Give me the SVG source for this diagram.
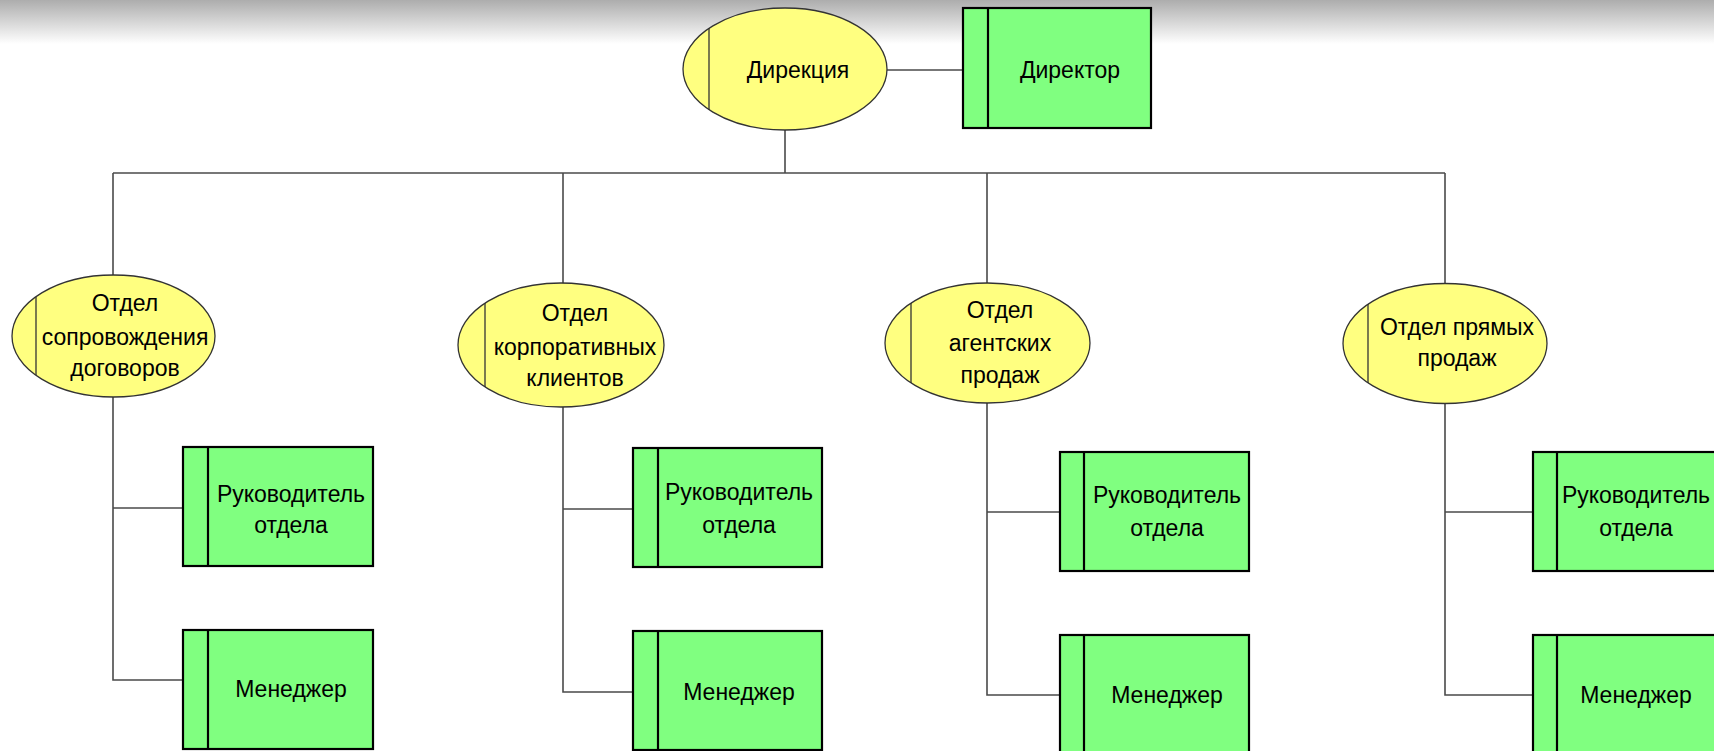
<svg xmlns="http://www.w3.org/2000/svg" width="1714" height="751" viewBox="0 0 1714 751">
<defs>
<linearGradient id="topshade" x1="0" y1="0" x2="0" y2="1">
<stop offset="0" stop-color="#adadad"/>
<stop offset="1" stop-color="#ffffff"/>
</linearGradient>
<style>
.ell{fill:#ffff80;stroke:#333333;stroke-width:1.3}
.eline{stroke:#333333;stroke-width:1.3}
.box{fill:#80ff80;stroke:#000000;stroke-width:2.2}
.bline{stroke:#000000;stroke-width:2.2}
.conn{fill:none;stroke:#4a4a4a;stroke-width:1.6}
text{font-family:"Liberation Sans",Arial,sans-serif;font-size:23px;fill:#000000;text-anchor:middle}
</style>
</defs>
<rect x="0" y="0" width="1714" height="751" fill="#ffffff"/>
<rect x="0" y="0" width="1714" height="44" fill="url(#topshade)"/>

<g id="connectors">
<line class="conn" x1="887" y1="70" x2="963" y2="70"/>
<line class="conn" x1="785" y1="130" x2="785" y2="173"/>
<line class="conn" x1="113" y1="173" x2="1445" y2="173"/>
<line class="conn" x1="113" y1="173" x2="113" y2="275"/>
<line class="conn" x1="563" y1="173" x2="563" y2="283"/>
<line class="conn" x1="987" y1="173" x2="987" y2="283"/>
<line class="conn" x1="1445" y1="173" x2="1445" y2="284"/>
<polyline class="conn" points="113,397 113,680 183,680"/>
<line class="conn" x1="113" y1="508" x2="183" y2="508"/>
<polyline class="conn" points="563,407 563,692 633,692"/>
<line class="conn" x1="563" y1="509" x2="633" y2="509"/>
<polyline class="conn" points="987,403 987,695 1060,695"/>
<line class="conn" x1="987" y1="512" x2="1060" y2="512"/>
<polyline class="conn" points="1445,403 1445,695 1533,695"/>
<line class="conn" x1="1445" y1="512" x2="1533" y2="512"/>
</g>

<g id="direkciya">
<ellipse class="ell" cx="785" cy="69" rx="102" ry="61"/>
<line class="eline" x1="709" y1="28" x2="709" y2="110"/>
<text x="798" y="78">Дирекция</text>
</g>
<g id="direktor">
<rect class="box" x="963" y="8" width="188" height="120"/>
<line class="bline" x1="988" y1="8" x2="988" y2="128"/>
<text x="1070" y="78">Директор</text>
</g>

<g id="otdel-soprovozhdeniya">
<ellipse class="ell" cx="113.5" cy="336" rx="101.5" ry="61"/>
<line class="eline" x1="36" y1="297" x2="36" y2="375"/>
<text x="125" y="311">Отдел</text>
<text x="125" y="345">сопровождения</text>
<text x="125" y="376">договоров</text>
</g>
<g id="ruk-1">
<rect class="box" x="183" y="447" width="190" height="119"/>
<line class="bline" x1="208" y1="447" x2="208" y2="566"/>
<text x="291" y="502">Руководитель</text>
<text x="291" y="533">отдела</text>
</g>
<g id="men-1">
<rect class="box" x="183" y="630" width="190" height="119"/>
<line class="bline" x1="208" y1="630" x2="208" y2="749"/>
<text x="291" y="697">Менеджер</text>
</g>

<g id="otdel-korporativnyh">
<ellipse class="ell" cx="561" cy="345" rx="103" ry="62"/>
<line class="eline" x1="485" y1="303" x2="485" y2="387"/>
<text x="575" y="321">Отдел</text>
<text x="575" y="355">корпоративных</text>
<text x="575" y="386">клиентов</text>
</g>
<g id="ruk-2">
<rect class="box" x="633" y="448" width="189" height="119"/>
<line class="bline" x1="658" y1="448" x2="658" y2="567"/>
<text x="739" y="500">Руководитель</text>
<text x="739" y="533">отдела</text>
</g>
<g id="men-2">
<rect class="box" x="633" y="631" width="189" height="119"/>
<line class="bline" x1="658" y1="631" x2="658" y2="750"/>
<text x="739" y="700">Менеджер</text>
</g>

<g id="otdel-agentskih">
<ellipse class="ell" cx="987.5" cy="343" rx="102.5" ry="60"/>
<line class="eline" x1="911" y1="303" x2="911" y2="383"/>
<text x="1000" y="318">Отдел</text>
<text x="1000" y="351">агентских</text>
<text x="1000" y="383">продаж</text>
</g>
<g id="ruk-3">
<rect class="box" x="1060" y="452" width="189" height="119"/>
<line class="bline" x1="1084" y1="452" x2="1084" y2="571"/>
<text x="1167" y="503">Руководитель</text>
<text x="1167" y="536">отдела</text>
</g>
<g id="men-3">
<rect class="box" x="1060" y="635" width="189" height="119"/>
<line class="bline" x1="1084" y1="635" x2="1084" y2="754"/>
<text x="1167" y="703">Менеджер</text>
</g>

<g id="otdel-pryamyh">
<ellipse class="ell" cx="1445" cy="343.5" rx="102" ry="60"/>
<line class="eline" x1="1368" y1="304" x2="1368" y2="383"/>
<text x="1457" y="335">Отдел прямых</text>
<text x="1457" y="366">продаж</text>
</g>
<g id="ruk-4">
<rect class="box" x="1533" y="452" width="189" height="119"/>
<line class="bline" x1="1557" y1="452" x2="1557" y2="571"/>
<text x="1636" y="503">Руководитель</text>
<text x="1636" y="536">отдела</text>
</g>
<g id="men-4">
<rect class="box" x="1533" y="635" width="189" height="119"/>
<line class="bline" x1="1557" y1="635" x2="1557" y2="754"/>
<text x="1636" y="703">Менеджер</text>
</g>
</svg>
